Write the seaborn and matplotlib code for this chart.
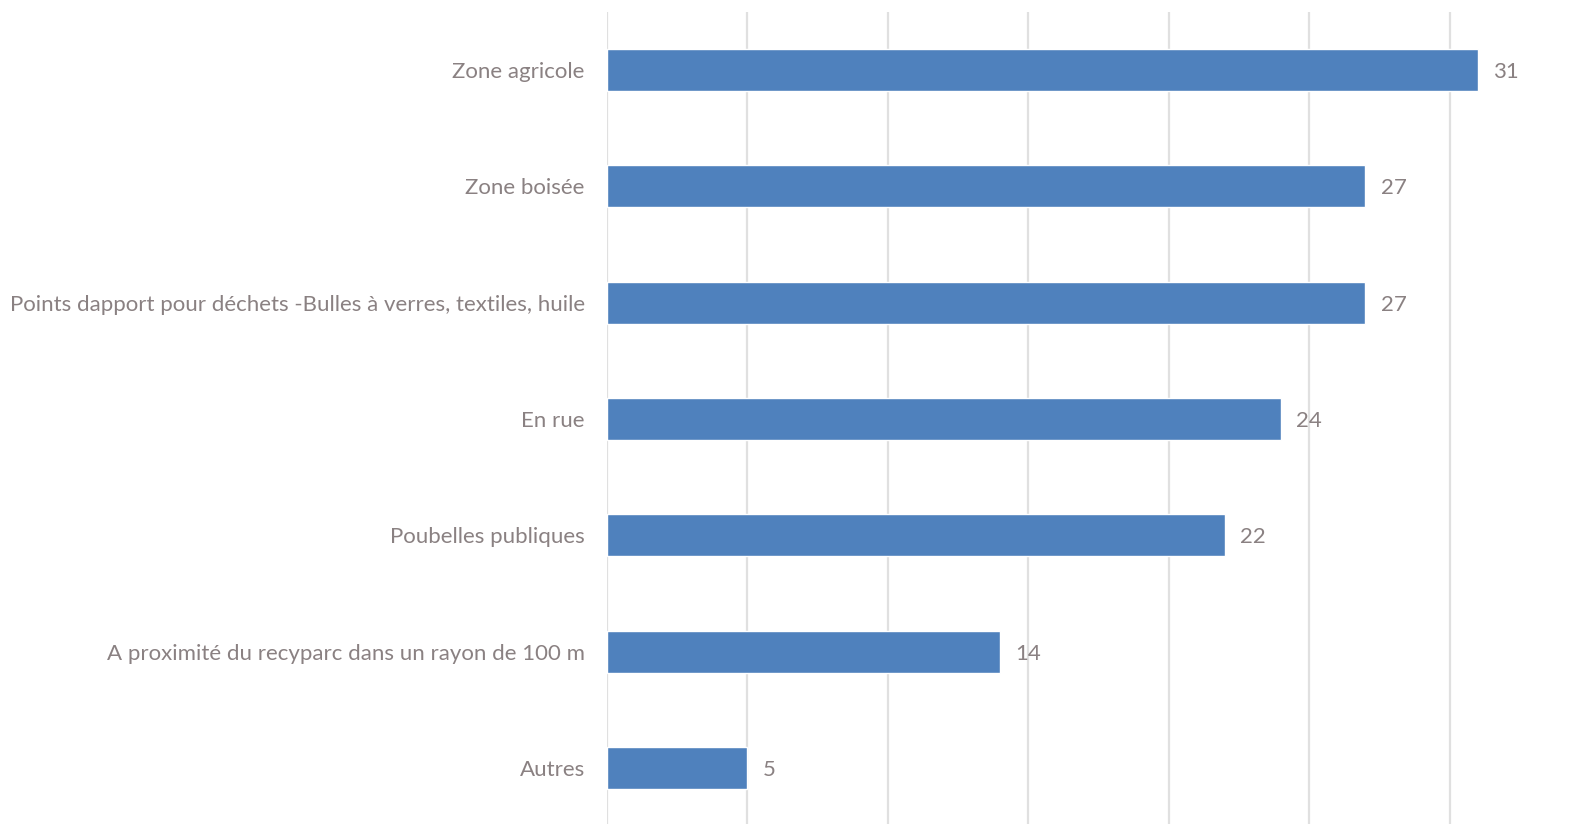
import seaborn as sns
import matplotlib.pyplot as plt
import pandas as pd

categories = [
    "Zone agricole",
    "Zone boisée",
    "Points dapport pour déchets -Bulles à verres, textiles, huile",
    "En rue",
    "Poubelles publiques",
    "A proximité du recyparc dans un rayon de 100 m",
    "Autres",
]
values = [31, 27, 27, 24, 22, 14, 5]

data = pd.DataFrame({"lieu": categories, "n": values})

sns.set_style("white")
plt.rcParams["font.family"] = ["Lato", "DejaVu Sans"]
text_color = "#8a8182"

fig = plt.figure(figsize=(15.71, 8.24), dpi=100)
ax = fig.add_axes([607 / 1571, -2 / 824, 924 / 1571, 814 / 824])

sns.barplot(data=data, x="n", y="lieu", orient="h", color="#4f81bd",
            saturation=1, width=0.36, ax=ax)

ax.set_xlim(0, 32.9)
ax.set_xticks(range(0, 31, 5))
ax.xaxis.grid(True, color="#e0e0e0", linewidth=1.6)
ax.set_axisbelow(True)
ax.tick_params(axis="x", length=0, labelbottom=False)
ax.tick_params(axis="y", length=0, labelsize=16, labelcolor=text_color, pad=16)
ax.set_xlabel("")
ax.set_ylabel("")
for s in ax.spines.values():
    s.set_visible(False)

for c in ax.containers:
    labels = ax.bar_label(c, padding=11, fontsize=16, color=text_color)
    for t in labels:
        t.set_va("center_baseline")

fig.savefig("out.png", dpi=100)
